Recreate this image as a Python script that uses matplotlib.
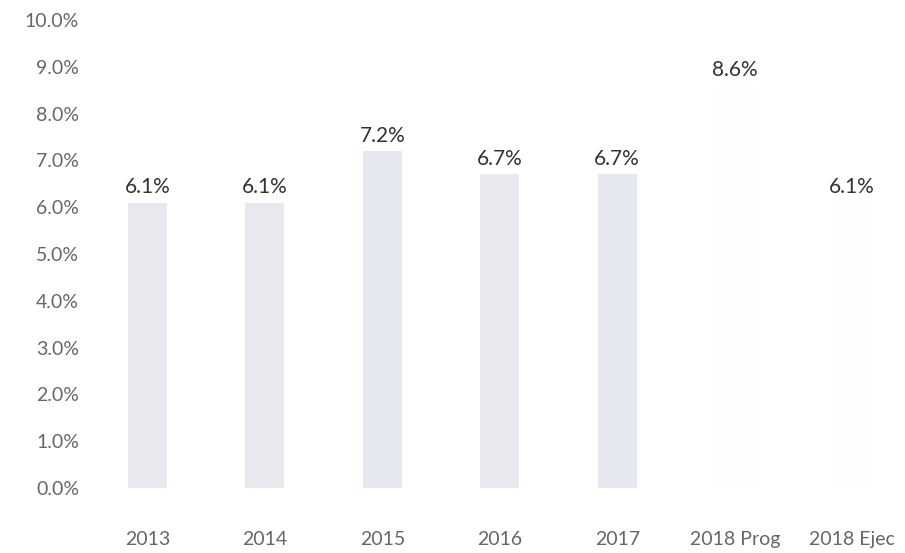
import matplotlib
matplotlib.use("Agg")
import matplotlib.pyplot as plt
from matplotlib.ticker import FuncFormatter, MultipleLocator

categories = ["2013", "2014", "2015", "2016", "2017", "2018 Prog", "2018 Ejec"]
values = [6.1, 6.1, 7.2, 6.7, 6.7, 8.6, 6.1]
bar_colors = ["#e8e9ef", "#e8e9ef", "#e6e8ef", "#e7e9ef", "#e6e8ef", "#fefefe", "#fefefe"]

plt.rcParams['font.family'] = ['Lato', 'DejaVu Sans']

fig = plt.figure(figsize=(9.05, 5.53), dpi=100)
ax = fig.add_axes([0.098, 0.1175, 0.902, 0.8463])

x = list(range(len(categories)))
ax.bar(x, values, width=0.33, color=bar_colors, edgecolor="none")

for xi, v in zip(x, values):
    ax.annotate(f"{v:.1f}%", (xi, v), xytext=(0, 4), textcoords="offset points",
                ha="center", va="bottom", fontsize=15, color="#333333")

ax.set_xlim(-0.5, 6.45)
ax.set_ylim(0, 10)
ax.yaxis.set_major_locator(MultipleLocator(1))
ax.yaxis.set_major_formatter(FuncFormatter(lambda v, p: f"{v:.1f}%"))
ax.set_xticks(x)
ax.set_xticklabels(categories)

for s in ax.spines.values():
    s.set_visible(False)
ax.tick_params(axis="both", length=0, labelsize=14, labelcolor="#666666")
ax.tick_params(axis="x", pad=31)
ax.tick_params(axis="y", pad=7)

fig.savefig("out.png", dpi=100)
